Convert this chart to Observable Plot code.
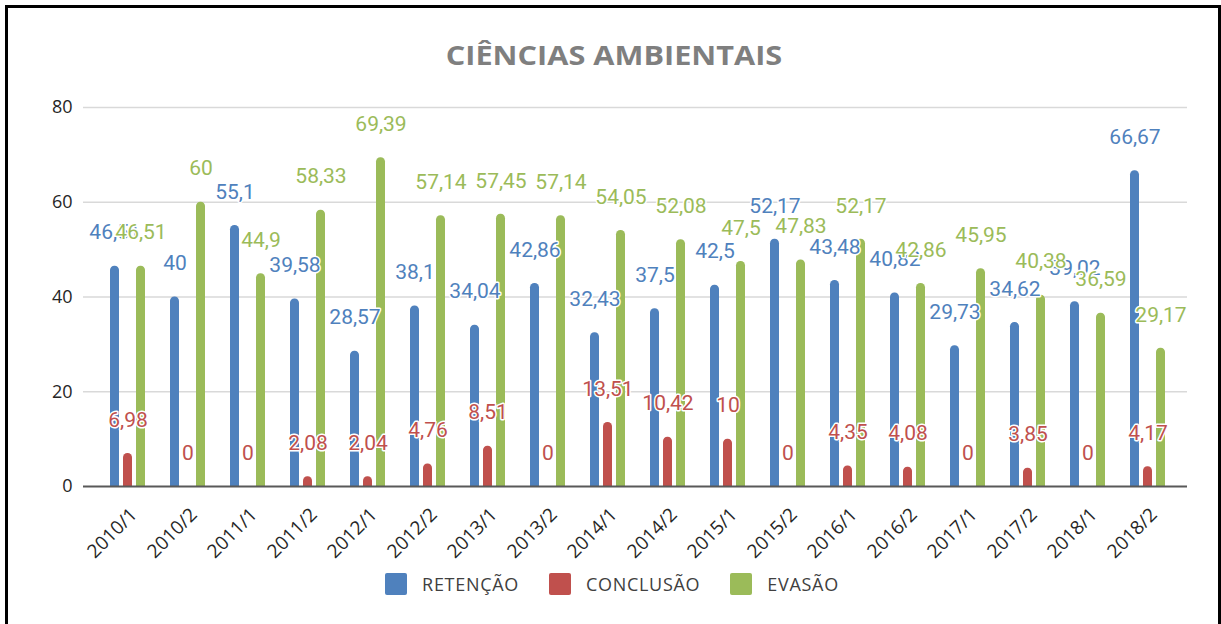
<!DOCTYPE html>
<html>
<head>
<meta charset="utf-8">
<script src="https://cdn.jsdelivr.net/npm/d3@7"></script>
<script src="https://cdn.jsdelivr.net/npm/@observablehq/plot@0.6"></script>
<style>
  html, body { margin: 0; padding: 0; background: #fff; }
  #page { position: relative; width: 1221px; height: 624px; overflow: hidden; background: #fff; }
  #frame { position: absolute; left: 5px; top: 5px; width: 1216px; height: 660px; box-sizing: border-box; border: 3px solid #000; }
  #title { position: absolute; left: 0; top: 42px; width: 1228px; text-align: center; font-family: "Open Sans", sans-serif; font-weight: 700; font-size: 26px; line-height: 26px; color: #7f7f7f; transform: scaleX(1.18); transform-origin: 614px 0; }
  #chart { position: absolute; left: 0; top: 90px; }
  #legend { position: absolute; left: 0; top: 572px; width: 1224px; display: flex; justify-content: center; align-items: center; font-family: "Open Sans", sans-serif; font-size: 18px; letter-spacing: 0.7px; color: #404040; }
  .item { display: flex; align-items: center; margin: 0 15px; }
  .sw { width: 22px; height: 22px; border-radius: 2px; margin-right: 15px; }
</style>
</head>
<body>
<div id="page">
  <div id="frame"></div>
  <div id="title">CIÊNCIAS AMBIENTAIS</div>
  <div id="chart"></div>
  <div id="legend"></div>
</div>
<script>
const categories = ["2010/1","2010/2","2011/1","2011/2","2012/1","2012/2","2013/1","2013/2","2014/1","2014/2","2015/1","2015/2","2016/1","2016/2","2017/1","2017/2","2018/1","2018/2"];
const retencao  = [46.51, 40, 55.1, 39.58, 28.57, 38.1, 34.04, 42.86, 32.43, 37.5, 42.5, 52.17, 43.48, 40.82, 29.73, 34.62, 39.02, 66.67];
const conclusao = [6.98, 0, 0, 2.08, 2.04, 4.76, 8.51, 0, 13.51, 10.42, 10, 0, 4.35, 4.08, 0, 3.85, 0, 4.17];
const evasao    = [46.51, 60, 44.9, 58.33, 69.39, 57.14, 57.45, 57.14, 54.05, 52.08, 47.5, 47.83, 52.17, 42.86, 45.95, 40.38, 36.59, 29.17];
const seriesNames = ["RETENÇÃO", "CONCLUSÃO", "EVASÃO"];
const seriesColors = ["#4f81bd", "#c0504d", "#9bbb59"];
const yTicks = [0, 20, 40, 60, 80];

const seriesValues = [retencao, conclusao, evasao];
const offsets = [-13, 0, 13];
const tables = seriesValues.map((vals, s) => categories.map((c, i) => ({cat: c, value: vals[i], series: seriesNames[s]})));
const fmt = v => String(v).replace(".", ",");

const marks = [
  Plot.gridY(yTicks.filter(t => t > 0), {stroke: "#d9d9d9", strokeOpacity: 1, strokeWidth: 1.5}),
];
tables.forEach((t, s) => {
  marks.push(Plot.rectY(t, {x: "cat", y1: () => -2, y2: "value", fill: seriesColors[s], dx: offsets[s], rx: 4.3, clip: true}));
});
marks.push(Plot.ruleY([0], {stroke: "#595959", strokeWidth: 2}));
tables.forEach((t, s) => {
  marks.push(Plot.text(t, {x: "cat", y: "value", text: d => fmt(d.value), dx: offsets[s], dy: -33.5, fill: seriesColors[s], stroke: "white", strokeWidth: 3, fontSize: 21, fontFamily: "Roboto"}));
});
marks.push(Plot.axisY(yTicks, {tickSize: 0, tickPadding: 11, fontSize: 18, label: null}));
marks.push(Plot.axisX({tickRotate: -45, tickSize: 0, tickPadding: 22, dx: 6, dy: 3, fontSize: 19, label: null}));

const chart = Plot.plot({
  width: 1221,
  height: 470,
  marginTop: 17,
  marginBottom: 74,
  marginLeft: 83,
  marginRight: 34,
  style: {fontFamily: "'Open Sans', sans-serif", color: "#262626", background: "transparent", overflow: "visible"},
  x: {type: "band", domain: categories, paddingInner: 0.855, paddingOuter: 0.6, align: 0.53},
  y: {domain: [0, 80]},
  marks
});
document.getElementById("chart").appendChild(chart);

const legend = document.getElementById("legend");
seriesNames.forEach((n, i) => {
  const item = document.createElement("div");
  item.className = "item";
  const sw = document.createElement("div");
  sw.className = "sw";
  sw.style.background = seriesColors[i];
  const label = document.createElement("span");
  label.textContent = n;
  item.appendChild(sw);
  item.appendChild(label);
  legend.appendChild(item);
});
</script>
</body>
</html>
